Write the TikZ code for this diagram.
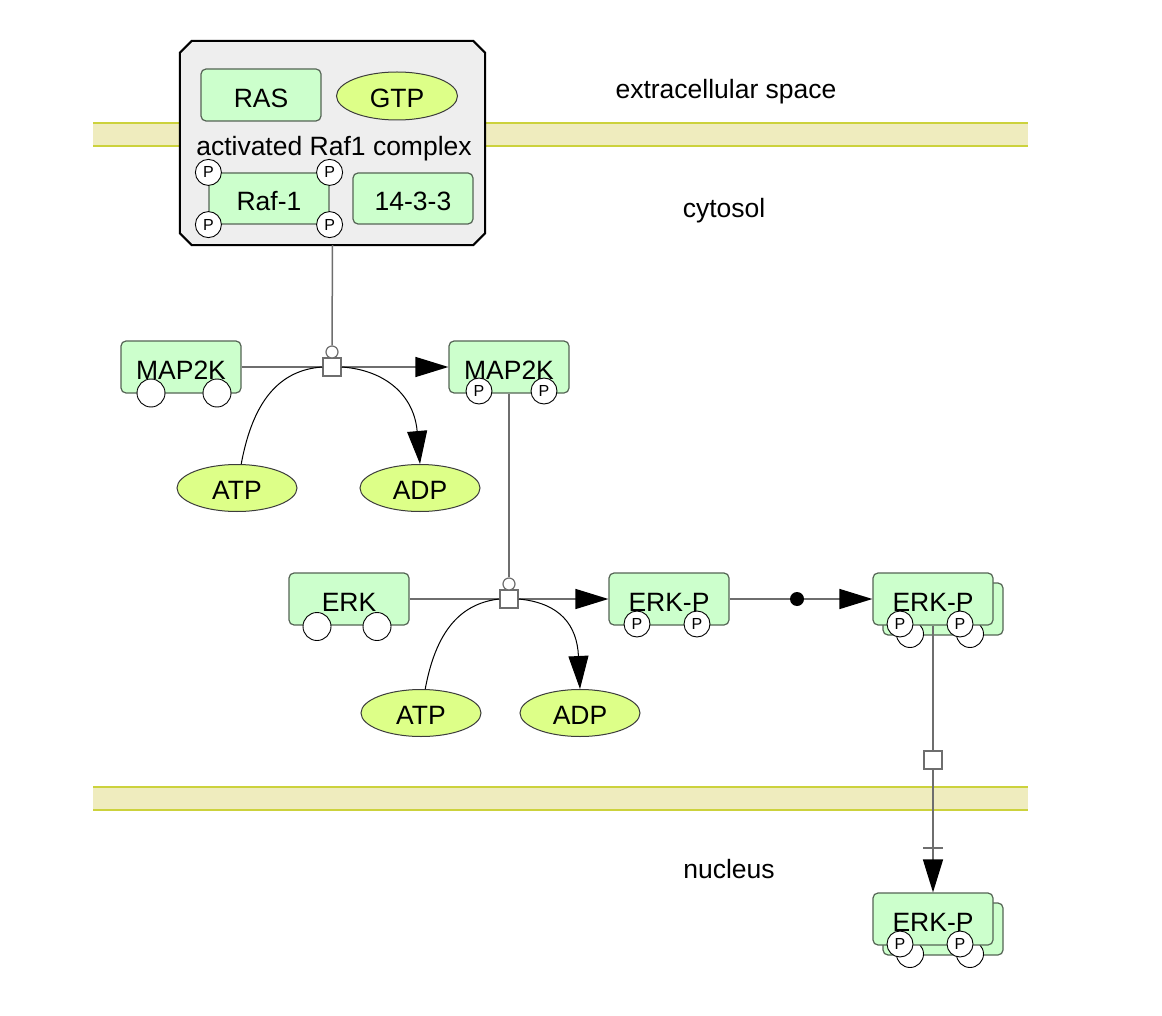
\documentclass[tikz,border=0pt]{standalone}
\usepackage{fontspec}
\setmainfont{Liberation Sans}
\usetikzlibrary{shapes.geometric,arrows.meta,calc}
\definecolor{protfill}{RGB}{204,255,204}
\definecolor{protline}{RGB}{85,100,85}
\definecolor{chemfill}{RGB}{221,255,136}
\definecolor{chemline}{RGB}{60,60,60}
\definecolor{memfill}{RGB}{239,236,190}
\definecolor{memline}{RGB}{204,210,60}
\definecolor{conngray}{RGB}{110,110,110}
\definecolor{cxfill}{RGB}{238,238,238}
\begin{document}
\begin{tikzpicture}[x=1pt,y=-1pt,
  protein/.style={rectangle, rounded corners=5pt, draw=protline, fill=protfill, line width=1.2pt, minimum width=120pt, minimum height=52pt, inner sep=0pt, text height=24.5pt, text depth=0pt, font=\fontsize{26.5}{30}\selectfont},
  chem/.style={ellipse, draw=chemline, fill=chemfill, line width=1pt, minimum width=120pt, minimum height=47pt, inner sep=0pt, text height=22.5pt, text depth=0pt, font=\fontsize{26.5}{30}\selectfont},
  svP/.style={circle, draw=black, fill=white, line width=0.9pt, minimum size=26pt, inner sep=0pt, font=\fontsize{16}{18}\selectfont},
  svE/.style={circle, draw=black, fill=white, line width=0.9pt, minimum size=28pt, inner sep=0pt},
  proc/.style={rectangle, draw=conngray, fill=white, line width=1.5pt, minimum size=18pt, inner sep=0pt},
  catc/.style={circle, draw=conngray, fill=white, line width=1.2pt, minimum size=12pt, inner sep=0pt},
  dotnode/.style={circle, fill=black, minimum size=14pt, inner sep=0pt},
  conn/.style={draw=conngray, line width=1.5pt},
  flux/.style={draw=black, line width=1pt},
  tri/.style={-{Triangle[length=33pt 0 0, width=20pt 0 0, color=black]}},
  lbl/.style={font=\fontsize{26.5}{30}\selectfont},
  cplx/.style={rectangle, minimum width=305pt, minimum height=204pt, inner sep=0pt}
]
\useasboundingbox[fill=white] (0,0) rectangle (1162,1016);

% membranes
\fill[memfill] (93,123) rectangle (1028,146);
\draw[memline, line width=1.5pt] (93,123) -- (1028,123) (93,146) -- (1028,146);
\fill[memfill] (93,787) rectangle (1028,810);
\draw[memline, line width=1.5pt] (93,787) -- (1028,787) (93,810) -- (1028,810);

% compartment labels
\node[lbl] (ecs) at (726,92) {extracellular space};
\node[lbl] (cyt) at (724,211) {cytosol};
\node[lbl] (nuc) at (729,869) {nucleus};

% complex
\node[cplx] (cx) at (332.5,143) {};
\draw[draw=black, line width=2pt, fill=cxfill]
  ($(cx.north west)+(0,12)$) -- ($(cx.north west)+(12,0)$) --
  ($(cx.north east)+(-12,0)$) -- ($(cx.north east)+(0,12)$) --
  ($(cx.south east)+(0,-12)$) -- ($(cx.south east)+(-12,0)$) --
  ($(cx.south west)+(12,0)$) -- ($(cx.south west)+(0,-12)$) -- cycle;
\node[protein] (ras) at (261,95) {RAS};
\node[chem, minimum width=121pt, minimum height=48pt] (gtp) at (397,96) {GTP};
\node[lbl] (cxl) at (334,149) {activated Raf1 complex};
\node[protein, minimum height=51pt] (raf) at (269,198.5) {Raf-1};
\node[svP] (rafp1) at (raf.north west) {P};
\node[svP] (rafp2) at (raf.north east) {P};
\node[svP] (rafp3) at (raf.south west) {P};
\node[svP] (rafp4) at (raf.south east) {P};
\node[protein, minimum height=51pt] (p1433) at (413,198.5) {14-3-3};

% MAP2K reaction
\node[protein] (mapk) at (181,367) {MAP2K};
\node[svE] (mapks1) at (151,393) {};
\node[svE] (mapks2) at (217,393) {};
\node[protein] (mapkp) at (509,367) {MAP2K};
\node[svP] (mapkp1) at (479,391) {P};
\node[svP] (mapkp2) at (544,391) {P};
\node[proc] (p1) at (332,367) {};
\node[catc] (c1) at (332,352) {};
\node[chem] (atp1) at (237,488) {ATP};
\node[chem] (adp1) at (420,488) {ADP};

% ERK reaction
\node[protein] (erk) at (349,599) {ERK};
\node[svE] (erks1) at (317,626.5) {};
\node[svE] (erks2) at (377,626.5) {};
\node[proc] (p2) at (509,599) {};
\node[catc] (c2) at (509,584) {};
\node[chem] (atp2) at (421,713) {ATP};
\node[chem] (adp2) at (580,713) {ADP};
\node[protein] (erkp1) at (669,599) {ERK-P};
\node[svP] (erkp1a) at (637,624) {P};
\node[svP] (erkp1b) at (697,624) {P};

\node[dotnode] (dot) at (797,599) {};

% ERK-P multimer (cytosol)
\node[protein] (erkm1b) at (943,609) {};
\node[svE, minimum size=27pt] (erkm1bs1) at (910,634) {};
\node[svE, minimum size=27pt] (erkm1bs2) at (970,634) {};
\node[protein] (erkm1) at (933,599) {ERK-P};
\node[svP] (erkm1p1) at (900,624) {P};
\node[svP] (erkm1p2) at (960,624) {P};

\node[proc] (p3) at (933,760) {};

% ERK-P multimer (nucleus)
\node[protein] (erknb) at (943,929) {};
\node[svE, minimum size=27pt] (erknbs1) at (910,954) {};
\node[svE, minimum size=27pt] (erknbs2) at (970,954) {};
\node[protein] (erkn) at (933,919) {ERK-P};
\node[svP] (erknp1) at (900,944) {P};
\node[svP] (erknp2) at (960,944) {P};

% connectors
\draw[conn] (cx.south) -- (c1.north);
\draw[conn] (mapk.east) -- (p1.west);
\draw[conn, tri] (p1.east) -- (mapkp.west);
\draw[flux] (atp1.80) .. controls (253,400) and (280,370) .. (p1.west);
\draw[flux, tri] (p1.east) .. controls (385,370) and (414,395) .. (adp1.north);

\draw[conn] (mapkp.south) -- (c2.north);
\draw[conn] (erk.east) -- (p2.west);
\draw[conn, tri] (p2.east) -- (erkp1.west);
\draw[flux] (atp2.80) .. controls (437,625) and (465,603) .. (p2.west);
\draw[flux, tri] (p2.east) .. controls (560,603) and (577,625) .. (adp2.north);

\draw[conn] (erkp1.east) -- (dot);
\draw[conn, tri] (dot) -- (erkm1.west);

\draw[conn] (erkm1.south) -- (p3.north);
\draw[conn, tri] (p3.south) -- (erkn.north);
\path (p3.south) -- (erkn.north) coordinate[pos=0.637] (tk);
\draw[conn] ($(tk)+(-10,0)$) -- ($(tk)+(10,0)$);
\end{tikzpicture}
\end{document}
